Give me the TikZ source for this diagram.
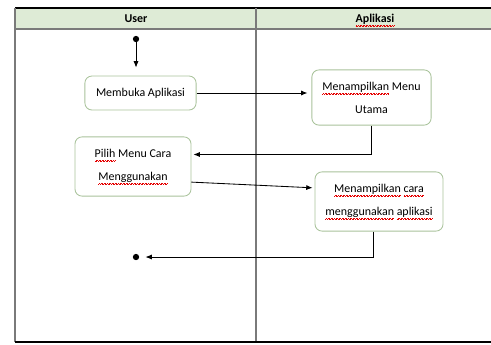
\documentclass[tikz,border=0pt]{standalone}
\usepackage{fontspec}
\setmainfont{Carlito}
\usetikzlibrary{arrows.meta}

\definecolor{headgreen}{HTML}{DEEBD6}
\definecolor{boxedge}{HTML}{A9C39B}
\definecolor{lanegray}{HTML}{7A7A7A}

% red spell-check underline
\newcommand\wavy[1]{\setbox0\hbox{#1}\rlap{\color{red!90!black}\hbox to\wd0{\xleaders\hbox{\rule[-2.9pt]{0.55pt}{0.4pt}\rule[-2.45pt]{0.55pt}{0.4pt}}\hfill}}\box0\relax}

\tikzset{
  actbox/.style={draw=boxedge,line width=0.6pt,rounded corners=5pt,fill=white,align=center,
    inner sep=1pt,font=\fontsize{8.5}{16.5}\selectfont},
  flow/.style={-{Latex[length=4.5pt,width=3.6pt]},line width=0.6pt,black},
  dot/.style={circle,fill=black,inner sep=0pt,minimum size=4.5pt},
  lanehead/.style={anchor=base,font=\fontsize{8.5}{10}\selectfont\bfseries}
}

\begin{document}
\begin{tikzpicture}[x=0.025cm,y=-0.025cm]
\useasboundingbox (0,0) rectangle (491,344);

% swimlanes
\fill[headgreen] (15,8) rectangle (491,29);
\draw[black,line width=0.8pt] (15,8) -- (491,8);
\draw[lanegray,line width=1.2pt] (15,29) -- (491,29);
\draw[lanegray,line width=0.8pt] (15,8) -- (15,342);
\draw[lanegray,line width=0.8pt] (256,8) -- (256,342);
\draw[black,line width=0.8pt] (15,342) -- (491,342);
\node[lanehead] (user) at (136,22.5) {User};
\node[lanehead] (app) at (375,22.5) {\wavy{Aplikasi}};

% activities
\node[dot] (start) at (136,39) {};
\node[actbox,minimum width=2.78cm,minimum height=0.85cm] (open) at (140.5,93) {Membuka Aplikasi};
\node[actbox,minimum width=2.98cm,minimum height=1.38cm] (menu) at (371.5,97.5) {\wavy{Menampilkan} Menu\\Utama};
\node[actbox,minimum width=2.9cm,minimum height=1.48cm] (pick) at (133,166.5) {\wavy{Pilih} Menu Cara\\\wavy{Menggunakan}};
\node[actbox,minimum width=3.2cm,minimum height=1.48cm] (guide) at (379,201.5) {\wavy{Menampilkan} \wavy{cara}\\\wavy{menggunakan} \wavy{aplikasi}};
\node[dot] (stop) at (136,257) {};

% flows
\draw[flow,shorten >=0.2cm] (start) -- (start |- open.north);
\draw[flow,shorten >=0.1cm] (open.east) -- (open.east -| menu.west);
\draw[flow,shorten >=0.05cm] (menu.south) |- ([yshift=0.3cm]pick.east);
\draw[flow,shorten >=0.05cm] ([yshift=-0.39cm]pick.east) -- ([yshift=0.34cm]guide.west);
\draw[flow,shorten >=0.15cm] ([xshift=-0.15cm]guide.south) |- (stop.east);
\end{tikzpicture}
\end{document}
